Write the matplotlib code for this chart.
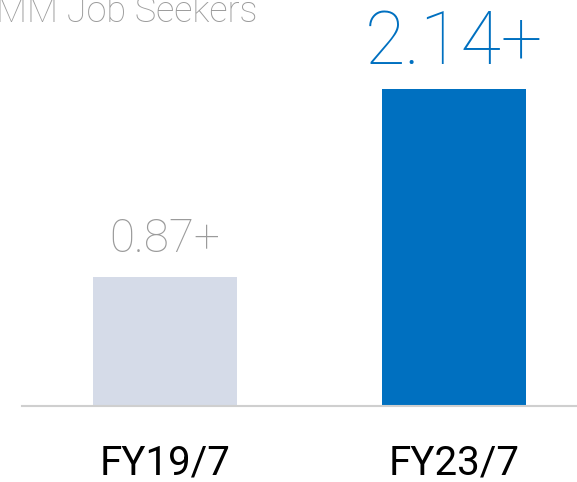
import matplotlib
matplotlib.use("Agg")
import matplotlib.pyplot as plt

categories = ["FY19/7", "FY23/7"]
values = [0.87, 2.14]
value_labels = ["0.87+", "2.14+"]
title = "MM Job Seekers"

bar_colors = ["#d5dbe8", "#0070c0"]
label_colors = ["#9b9b9b", "#0070c0"]
label_sizes = [33, 53]

plt.rcParams['font.family'] = ['Roboto', 'DejaVu Sans']

fig = plt.figure(figsize=(5.77, 4.82), dpi=100)
W, H = 577, 482
ax = fig.add_axes([22 / W, (H - 406) / H, (W - 22) / W, 406 / H])

x = list(range(len(categories)))
ax.bar(x, values, width=0.498, color=bar_colors, zorder=2)
ax.set_xlim(-0.4948, 1.4256)
ax.set_ylim(0, 2.743)

for xi, v, lab, c, s in zip(x, values, value_labels, label_colors, label_sizes):
    ax.annotate(lab, (xi, v), xytext=(0, 18), textcoords="offset points",
                ha="center", va="baseline", color=c, fontsize=s, fontweight="light")

for xi, cat in zip(x, categories):
    ax.annotate(cat, (xi, 0), xytext=(0, -41), textcoords="offset points",
                ha="center", va="center", color="black", fontsize=29, annotation_clip=False)

ax.set_xticks([])
ax.set_yticks([])
for side in ["top", "right", "left"]:
    ax.spines[side].set_visible(False)
ax.spines["bottom"].set_color("#cfcfcf")
ax.spines["bottom"].set_linewidth(1.5)
ax.patch.set_alpha(0)

fig.text(258 / W, (H - 22) / H, title, ha="right", va="baseline",
         color="#9b9b9b", fontsize=26, fontweight="light")

fig.savefig("out.png", dpi=100)
